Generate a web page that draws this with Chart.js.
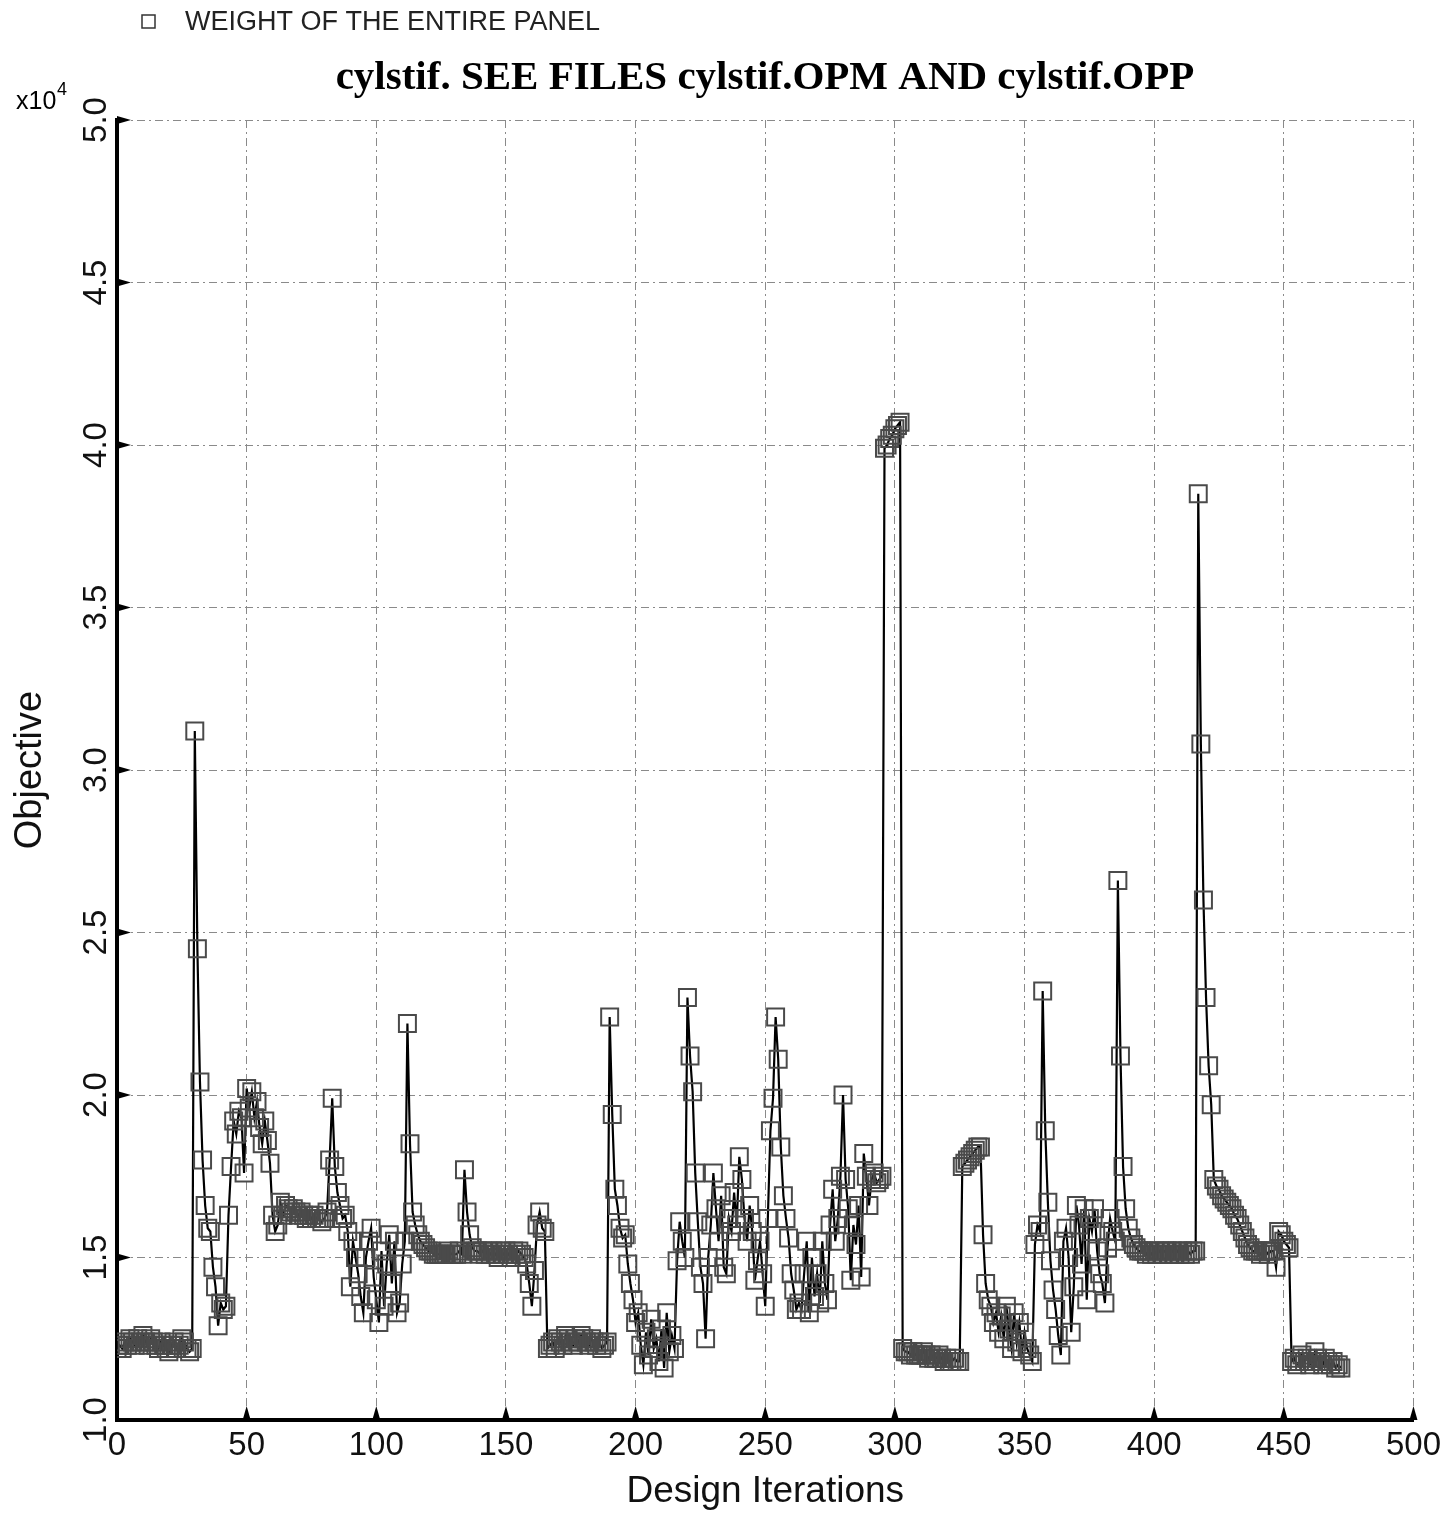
<!DOCTYPE html>
<html>
<head>
<meta charset="utf-8">
<script src="https://cdn.jsdelivr.net/npm/chart.js@4.4.1/dist/chart.umd.min.js"></script>
<style>
  body { margin: 0; background: #fff; }
  #wrap { width: 1447px; height: 1517px; }
</style>
</head>
<body>
<div id="wrap"><canvas id="myChart" width="1447" height="1517"></canvas></div>
<script>
// objective (weight of the entire panel), in units of 1e4, one value per design iteration
let weight = [
  1.22, 1.23, 1.22, 1.24, 1.23, 1.25, 1.24, 1.23, 1.25, 1.24,
  1.26, 1.24, 1.23, 1.25, 1.24, 1.23, 1.22, 1.24, 1.23, 1.22,
  1.21, 1.23, 1.24, 1.22, 1.23, 1.25, 1.24, 1.22, 1.21, 1.22,
  3.12, 2.45, 2.04, 1.80, 1.66, 1.59, 1.58, 1.47, 1.41, 1.29,
  1.36, 1.34, 1.35, 1.63, 1.78, 1.92, 1.88, 1.95, 1.93, 1.76,
  2.02, 1.96, 2.01, 1.93, 1.98, 1.90, 1.85, 1.92, 1.86, 1.79,
  1.63, 1.58, 1.60, 1.67, 1.63, 1.66, 1.65, 1.64, 1.65, 1.64,
  1.63, 1.64, 1.63, 1.62, 1.63, 1.62, 1.63, 1.62, 1.62, 1.61,
  1.62, 1.64, 1.80, 1.99, 1.78, 1.70, 1.66, 1.62, 1.63, 1.58,
  1.41, 1.55, 1.50, 1.45, 1.38, 1.33, 1.50, 1.55, 1.59, 1.44,
  1.37, 1.30, 1.52, 1.35, 1.48, 1.57, 1.42, 1.55, 1.33, 1.36,
  1.48, 1.55, 2.22, 1.85, 1.64, 1.60, 1.57, 1.55, 1.54, 1.53,
  1.52, 1.52, 1.51, 1.51, 1.51, 1.51, 1.51, 1.51, 1.52, 1.51,
  1.51, 1.51, 1.52, 1.51, 1.77, 1.64, 1.57, 1.53, 1.52, 1.52,
  1.51, 1.52, 1.51, 1.52, 1.51, 1.52, 1.51, 1.50, 1.52, 1.51,
  1.52, 1.51, 1.50, 1.52, 1.51, 1.52, 1.51, 1.50, 1.48, 1.42,
  1.35, 1.46, 1.60, 1.64, 1.59, 1.58, 1.22, 1.23, 1.24, 1.22,
  1.25, 1.24, 1.23, 1.26, 1.25, 1.24, 1.23, 1.25, 1.24, 1.26,
  1.25, 1.24, 1.23, 1.25, 1.24, 1.23, 1.24, 1.22, 1.23, 1.24,
  2.24, 1.94, 1.71, 1.66, 1.59, 1.56, 1.57, 1.48, 1.42, 1.37,
  1.30, 1.33, 1.23, 1.17, 1.27, 1.20, 1.31, 1.22, 1.25, 1.18,
  1.28, 1.16, 1.33, 1.21, 1.26, 1.22, 1.49, 1.61, 1.55, 1.50,
  2.30, 2.12, 2.01, 1.76, 1.61, 1.47, 1.42, 1.25, 1.50, 1.60,
  1.76, 1.65, 1.55, 1.69, 1.47, 1.45, 1.62, 1.58, 1.70, 1.60,
  1.81, 1.74, 1.62, 1.55, 1.66, 1.58, 1.43, 1.49, 1.55, 1.45,
  1.35, 1.62, 1.89, 1.99, 2.24, 2.11, 1.84, 1.69, 1.62, 1.56,
  1.45, 1.40, 1.34, 1.36, 1.34, 1.45, 1.55, 1.33, 1.50, 1.38,
  1.45, 1.36, 1.55, 1.42, 1.37, 1.60, 1.71, 1.55, 1.62, 1.75,
  2.00, 1.74, 1.65, 1.43, 1.60, 1.54, 1.66, 1.44, 1.82, 1.75,
  1.66, 1.74, 1.76, 1.73, 1.74, 1.75, 3.99, 4.00, 4.02, 4.03,
  4.05, 4.06, 4.07, 1.22, 1.21, 1.21, 1.20, 1.21, 1.20, 1.20,
  1.20, 1.21, 1.20, 1.19, 1.20, 1.19, 1.19, 1.20, 1.19, 1.18,
  1.19, 1.18, 1.18, 1.19, 1.18, 1.18, 1.78, 1.79, 1.80, 1.81,
  1.82, 1.83, 1.84, 1.84, 1.57, 1.42, 1.37, 1.35, 1.30, 1.33,
  1.27, 1.32, 1.25, 1.35, 1.28, 1.22, 1.33, 1.24, 1.30, 1.21,
  1.27, 1.22, 1.20, 1.18, 1.54, 1.60, 1.58, 2.32, 1.89, 1.67,
  1.49, 1.40, 1.34, 1.26, 1.20, 1.55, 1.59, 1.50, 1.27, 1.41,
  1.66, 1.60, 1.48, 1.65, 1.37, 1.62, 1.58, 1.65, 1.52, 1.45,
  1.42, 1.36, 1.53, 1.62, 1.58, 1.55, 2.66, 2.12, 1.78, 1.65,
  1.59, 1.56, 1.54, 1.53, 1.52, 1.52, 1.52, 1.51, 1.52, 1.51,
  1.52, 1.51, 1.52, 1.51, 1.52, 1.52, 1.51, 1.52, 1.51, 1.52,
  1.51, 1.52, 1.51, 1.52, 1.51, 1.52, 1.52, 3.85, 3.08, 2.60,
  2.30, 2.09, 1.97, 1.74, 1.72, 1.71, 1.69, 1.68, 1.67, 1.66,
  1.65, 1.63, 1.62, 1.60, 1.58, 1.56, 1.54, 1.53, 1.52, 1.52,
  1.52, 1.51, 1.52, 1.52, 1.51, 1.52, 1.52, 1.47, 1.58, 1.57,
  1.55, 1.54, 1.53, 1.18, 1.19, 1.17, 1.18, 1.20, 1.18, 1.19,
  1.17, 1.18, 1.21, 1.19, 1.18, 1.17, 1.19, 1.18, 1.17, 1.18,
  1.16, 1.17, 1.16
];

const legendLabel = 'WEIGHT OF THE ENTIRE PANEL';
const chartTitle = 'cylstif. SEE FILES cylstif.OPM AND cylstif.OPP';
const xTitle = 'Design Iterations';
const yTitle = 'Objective';

const points = weight.map((v, i) => ({ x: i, y: v }));

// texts outside the chart area + the little triangles on the axes
const decorations = {
  id: 'decorations',
  afterDraw(chart) {
    const ctx = chart.ctx;
    const xs = chart.scales.x, ys = chart.scales.y;
    const area = chart.chartArea;
    ctx.save();
    // legend
    ctx.strokeStyle = '#333';
    ctx.lineWidth = 1.5;
    ctx.strokeRect(142, 15, 13, 13);
    ctx.fillStyle = '#222';
    ctx.font = '27px "Liberation Sans", Arial, sans-serif';
    ctx.textBaseline = 'middle';
    ctx.textAlign = 'left';
    ctx.fillText(legendLabel, 185, 23);
    // title
    ctx.fillStyle = '#000';
    ctx.font = 'bold 41px "Liberation Serif", "Times New Roman", serif';
    ctx.textAlign = 'center';
    ctx.fillText(chartTitle, 765, 78);
    // exponent
    ctx.font = '25px "Liberation Sans", Arial, sans-serif';
    ctx.textAlign = 'left';
    ctx.fillText('x10', 16, 102);
    ctx.font = '18px "Liberation Sans", Arial, sans-serif';
    ctx.fillText('4', 57, 90);
    // tick triangles
    ctx.fillStyle = '#000';
    xs.ticks.forEach(t => {
      const px = xs.getPixelForValue(t.value);
      if (t.value === 0) return;
      ctx.beginPath();
      ctx.moveTo(px - 4, area.bottom);
      ctx.lineTo(px + 4, area.bottom);
      ctx.lineTo(px, area.bottom - 14);
      ctx.closePath();
      ctx.fill();
    });
    ys.ticks.forEach(t => {
      const py = ys.getPixelForValue(t.value);
      if (t.value === 1) return;
      ctx.beginPath();
      ctx.moveTo(area.left, py - 4);
      ctx.lineTo(area.left, py + 4);
      ctx.lineTo(area.left + 14, py);
      ctx.closePath();
      ctx.fill();
    });
    ctx.restore();
  }
};

const gridStyle = {
  color: '#8a8a8a',
  lineWidth: 1,
  drawTicks: false
};

let chartElement = document.getElementById('myChart').getContext('2d');

let myChart = new Chart(chartElement, {
  type: 'line',
  data: {
    datasets: [{
      label: legendLabel,
      data: points,
      borderColor: '#000',
      borderWidth: 2.2,
      tension: 0,
      fill: false,
      pointStyle: 'rect',
      pointRadius: 12,
      pointBorderWidth: 2,
      pointBorderColor: '#4a4a4a',
      pointBackgroundColor: 'rgba(0,0,0,0)'
    }]
  },
  options: {
    responsive: false,
    animation: false,
    events: [],
    layout: { padding: { top: 120, right: 32, left: 0, bottom: 0 } },
    plugins: {
      legend: { display: false },
      title: { display: false },
      tooltip: { enabled: false }
    },
    scales: {
      x: {
        type: 'linear',
        min: 0,
        max: 500,
        ticks: {
          stepSize: 50,
          color: '#111',
          padding: 6,
          font: { family: '"Liberation Sans", Arial, sans-serif', size: 33 }
        },
        grid: Object.assign({}, gridStyle),
        border: { display: true, color: '#000', width: 4, dash: [8, 4, 2, 4] },
        title: {
          display: true,
          text: xTitle,
          color: '#111',
          padding: { top: 0, bottom: 3 },
          font: { family: '"Liberation Sans", Arial, sans-serif', size: 37 }
        },
        afterFit: scale => { scale.height = 97; }
      },
      y: {
        min: 1.0,
        max: 5.0,
        ticks: {
          stepSize: 0.5,
          minRotation: 90,
          maxRotation: 90,
          crossAlign: 'center',
          padding: -3,
          color: '#111',
          font: { family: '"Liberation Sans", Arial, sans-serif', size: 33 },
          callback: v => v.toFixed(1)
        },
        grid: Object.assign({}, gridStyle),
        border: { display: true, color: '#000', width: 4, dash: [8, 4, 2, 4] },
        title: {
          display: true,
          text: yTitle,
          color: '#111',
          padding: { top: 8, bottom: 0 },
          font: { family: '"Liberation Sans", Arial, sans-serif', size: 38 }
        },
        afterFit: scale => { scale.width = 117; }
      }
    }
  },
  plugins: [decorations]
});
</script>
</body>
</html>
